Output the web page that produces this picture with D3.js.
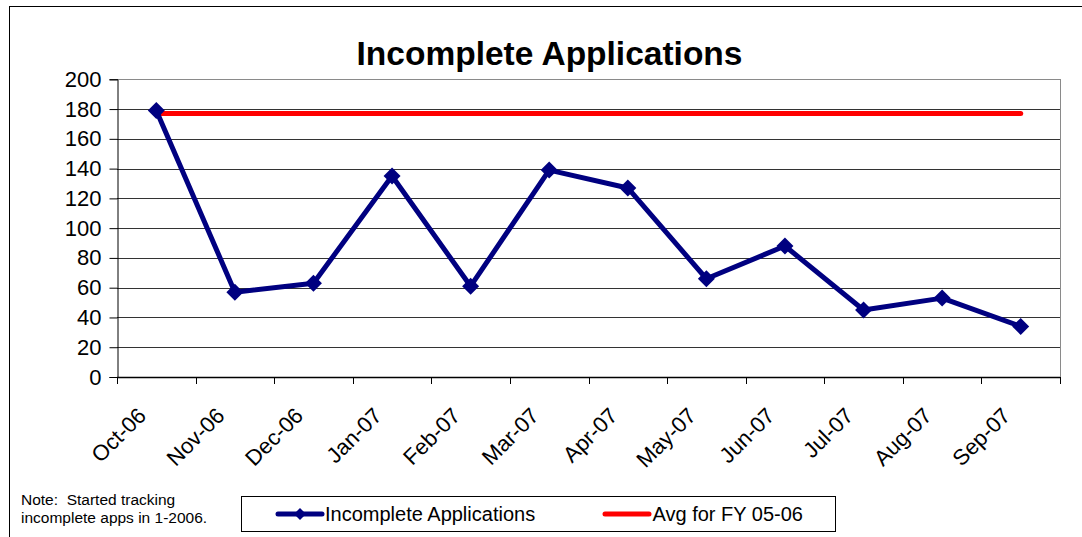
<!DOCTYPE html>
<html>
<head>
<meta charset="utf-8">
<script src="https://cdn.jsdelivr.net/npm/d3@7"></script>
<style>
  html, body { margin: 0; padding: 0; background: #fff; }
  svg { display: block; font-family: Arial, "Liberation Sans", sans-serif; }
</style>
</head>
<body>
<svg id="chart" width="1082" height="537"></svg>
<script>
const months = ["Oct-06","Nov-06","Dec-06","Jan-07","Feb-07","Mar-07","Apr-07","May-07","Jun-07","Jul-07","Aug-07","Sep-07"];
const incomplete = [179, 57, 63, 135, 61, 139, 127, 66, 88, 45, 53, 34];
const avgFY0506 = [177, 177, 177, 177, 177, 177, 177, 177, 177, 177, 177, 177];
const yTicks = [0, 20, 40, 60, 80, 100, 120, 140, 160, 180, 200];
const seriesNames = ["Incomplete Applications", "Avg for FY 05-06"];
const titleText = "Incomplete Applications";
const noteLines = ["Note:  Started tracking", "incomplete apps in 1-2006."];

const svg = d3.select("#chart");
const L = 117, R = 1060, T = 79.3, B = 377;

// outer chart border
svg.append("rect").attr("x", 9.5).attr("y", 6.5).attr("width", 1100).attr("height", 600)
  .attr("fill", "none").attr("stroke", "#000").attr("stroke-width", 1);

const x = d3.scaleBand().domain(months).range([L, R]).padding(0);
const y = d3.scaleLinear().domain([0, 200]).range([B, T]);
const cx = d => x(d) + x.bandwidth() / 2;

// gridlines
svg.append("g").selectAll("line").data(yTicks.filter(v => v > 0)).join("line")
  .attr("x1", L).attr("x2", R)
  .attr("y1", d => Math.round(y(d)) + 0.5).attr("y2", d => Math.round(y(d)) + 0.5)
  .attr("stroke", d => d === 200 ? "#8a8a8a" : "#333").attr("stroke-width", 1);
// right plot border
svg.append("line").attr("x1", R + 0.5).attr("x2", R + 0.5).attr("y1", Math.round(T)).attr("y2", B)
  .attr("stroke", "#8a8a8a").attr("stroke-width", 1);

// y axis
const yAxis = d3.axisLeft(y).tickValues(yTicks).tickSize(8).tickPadding(8);
const gy = svg.append("g").attr("transform", `translate(${L + 0.5},0)`).call(yAxis);
gy.select(".domain").attr("stroke", "#000");
gy.selectAll(".tick line").attr("stroke", "#000");
gy.selectAll(".tick text").attr("font-size", 22).attr("fill", "#000")
  .attr("font-family", "Arial, 'Liberation Sans', sans-serif");

// x axis: ticks at band boundaries
const boundaries = months.map(m => x(m)).concat([R]);
const gx = svg.append("g");
gx.append("line").attr("x1", L).attr("x2", R).attr("y1", B + 0.5).attr("y2", B + 0.5)
  .attr("stroke", "#000").attr("stroke-width", 1.5);
gx.selectAll("line.tk").data(boundaries).join("line").attr("class", "tk")
  .attr("x1", d => Math.round(d) + 0.5).attr("x2", d => Math.round(d) + 0.5)
  .attr("y1", B).attr("y2", B + 7).attr("stroke", "#000");
gx.selectAll("text").data(months).join("text")
  .attr("transform", d => `translate(${cx(d) - 9},${B + 40}) rotate(-45)`)
  .attr("text-anchor", "end")
  .attr("font-size", 22).attr("fill", "#000").text(d => d);

// title
svg.append("text").attr("x", 549.5).attr("y", 65).attr("text-anchor", "middle")
  .attr("font-size", 33.5).attr("font-weight", "bold").text(titleText);

// avg line
const line = d3.line().x((d, i) => cx(months[i])).y(d => y(d));
svg.append("path").datum(avgFY0506).attr("d", line)
  .attr("fill", "none").attr("stroke", "#ff0000").attr("stroke-width", 5).attr("stroke-linecap", "round");

// incomplete series
svg.append("path").datum(incomplete).attr("d", line)
  .attr("fill", "none").attr("stroke", "#000080").attr("stroke-width", 5).attr("stroke-linejoin", "round");
const diamond = s => `M0,${-s}L${s},0L0,${s}L${-s},0Z`;
svg.append("g").selectAll("path").data(incomplete).join("path")
  .attr("transform", (d, i) => `translate(${cx(months[i])},${y(d)})`)
  .attr("d", diamond(8.5)).attr("fill", "#000080");

// note
svg.append("g").selectAll("text").data(noteLines).join("text")
  .attr("x", 21).attr("y", (d, i) => 505 + i * 18)
  .attr("font-size", 15.5).attr("fill", "#000")
  .style("white-space", "pre").attr("xml:space", "preserve").text(d => d);

// legend
const lg = svg.append("g");
lg.append("rect").attr("x", 241.5).attr("y", 496.5).attr("width", 594).attr("height", 35)
  .attr("fill", "#fff").attr("stroke", "#000").attr("stroke-width", 1);
lg.append("line").attr("x1", 278).attr("x2", 322).attr("y1", 514).attr("y2", 514)
  .attr("stroke", "#000080").attr("stroke-width", 5).attr("stroke-linecap", "round");
lg.append("path").attr("transform", "translate(300,514)").attr("d", diamond(6)).attr("fill", "#000080");
lg.append("text").attr("x", 325).attr("y", 514).attr("dy", "0.35em").attr("font-size", 20).text(seriesNames[0]);
lg.append("line").attr("x1", 605).attr("x2", 649).attr("y1", 514).attr("y2", 514)
  .attr("stroke", "#ff0000").attr("stroke-width", 5).attr("stroke-linecap", "round");
lg.append("text").attr("x", 652.5).attr("y", 514).attr("dy", "0.35em").attr("font-size", 20).text(seriesNames[1]);
</script>
</body>
</html>
